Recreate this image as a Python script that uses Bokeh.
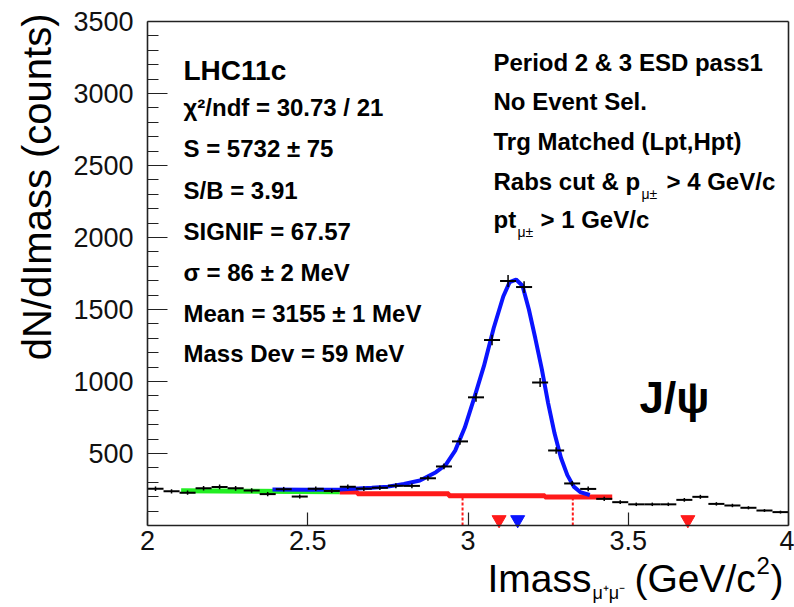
import numpy as np
from bokeh.plotting import figure
from bokeh.models import Range1d, FixedTicker, NumeralTickFormatter, Label, LinearAxis
from bokeh.embed import file_html
from bokeh.resources import INLINE

# ---------------- data ----------------
mass_centers = [2.025, 2.075, 2.125, 2.175, 2.225, 2.275, 2.325, 2.375, 2.425, 2.475,
                2.525, 2.575, 2.625, 2.675, 2.725, 2.775, 2.825, 2.875, 2.925, 2.975,
                3.025, 3.075, 3.125, 3.175, 3.225, 3.275, 3.325, 3.375, 3.425, 3.475,
                3.525, 3.575, 3.625, 3.675, 3.725, 3.775, 3.825, 3.875, 3.925, 3.975]
bin_half_width = 0.025
counts = [255, 237, 228, 259, 268, 258, 243, 218, 252, 201,
          255, 240, 269, 256, 262, 276, 275, 328, 410, 584,
          890, 1288, 1698, 1656, 993, 521, 292, 254, 185, 162,
          147, 147, 147, 178, 199, 150, 139, 123, 104, 93]
count_err = [16, 15, 15, 16, 16, 16, 16, 15, 16, 14,
             16, 15, 16, 16, 16, 17, 17, 18, 20, 24,
             30, 36, 41, 41, 32, 23, 17, 16, 14, 13,
             12, 12, 12, 13, 14, 12, 12, 11, 10, 10]

# total fit (signal + background), blue
fit_x = [2.39, 2.50, 2.60, 2.70, 2.75, 2.80, 2.85, 2.90, 2.93, 2.96, 2.99, 3.02,
         3.05, 3.08, 3.11, 3.13, 3.15, 3.17, 3.19, 3.21, 3.23, 3.25, 3.27, 3.29,
         3.31, 3.33, 3.35, 3.38]
fit_y = [250, 249, 250, 262, 270, 288, 312, 370, 420, 520, 680, 890,
         1110, 1370, 1590, 1690, 1708, 1665, 1500, 1300, 1090, 850, 640, 470,
         350, 270, 232, 212]

# background fits
bg_left_x = [2.105, 2.600]
bg_left_y = [241, 234]
bg_right_x = [2.600, 2.655, 2.940, 3.240, 3.450]
bg_right_y = [232, 221, 207, 198, 198]

# +-2 sigma window
window_x = [2.983, 3.327]
window_top = [200, 200]

# mass markers
pdg_masses = [3.097, 3.686]
fit_mean = [3.155]

y_major = [500, 1000, 1500, 2000, 2500, 3000, 3500]
x_major = [2.0, 2.5, 3.0, 3.5, 4.0]
x_bounds = (2.0, 4.0)
y_bounds = (0.0, 3500.0)

# ---------------- figure ----------------
W, H = 794, 607
FL, FR, FT, FB = 147, 788, 21, 525   # pixel box of the plotting area
X0, X1 = x_bounds
Y0, Y1 = y_bounds

def X(px):
    return X0 + (px - FL) * (X1 - X0) / (FR - FL)

def Y(py):
    return Y0 + (FB - py) * (Y1 - Y0) / (FB - FT)

p = figure(width=W, height=H, output_backend="svg", toolbar_location=None,
           x_range=Range1d(X(0), X(W)), y_range=Range1d(Y(H), Y(0)),
           x_axis_location=None, y_axis_location=None, min_border=0)
p.background_fill_color = "white"
p.border_fill_color = "white"
p.outline_line_color = None
try:
    p.grid.visible = False
except Exception:
    pass

FRAME = "#222222"

def style_axis(ax):
    ax.axis_line_color = FRAME
    ax.axis_line_width = 1.6
    ax.major_tick_line_color = FRAME
    ax.minor_tick_line_color = FRAME
    ax.major_tick_line_width = 1.2
    ax.minor_tick_line_width = 1.2
    ax.major_tick_out = 0
    ax.minor_tick_out = 0
    ax.major_label_text_font = "Liberation Sans"
    ax.major_label_text_font_size = "27px"
    ax.major_label_text_color = "#111111"

y_minor = [v for v in range(100, 3500, 100) if v % 500 != 0]
yaxis = LinearAxis(fixed_location=X0, bounds=y_bounds,
                   ticker=FixedTicker(ticks=y_major, minor_ticks=y_minor),
                   formatter=NumeralTickFormatter(format="0"))
style_axis(yaxis)
yaxis.major_tick_in = 20
yaxis.minor_tick_in = 11
yaxis.major_label_standoff = 14
p.add_layout(yaxis, "left")

xaxis = LinearAxis(fixed_location=Y0, bounds=x_bounds,
                   ticker=FixedTicker(ticks=x_major, minor_ticks=[]),
                   formatter=NumeralTickFormatter(format="0.[0]"))
style_axis(xaxis)
xaxis.major_tick_in = 13
xaxis.minor_tick_in = 0
xaxis.major_label_standoff = 5
p.add_layout(xaxis, "below")

# top and right frame edges
for side, loc, bnd in (("above", Y1, x_bounds), ("right", X1, y_bounds)):
    edge = LinearAxis(fixed_location=loc, bounds=bnd, ticker=FixedTicker(ticks=[], minor_ticks=[]))
    style_axis(edge)
    edge.major_tick_in = 0
    edge.minor_tick_in = 0
    edge.major_label_text_font_size = "0px"
    p.add_layout(edge, side)

# background fits and total fit
p.line(bg_left_x, bg_left_y, line_color="#22ee22", line_width=5)
p.step(bg_right_x, bg_right_y, mode="after", line_color="#ff1a1a", line_width=5)
p.line(fit_x, fit_y, line_color="#0a14ff", line_width=4)

# window lines
p.segment(x0=window_x, y0=[Y0, Y0], x1=window_x, y1=window_top,
          line_color="#ff1a1a", line_width=2, line_dash="3 2")

# histogram with error bars
lo = [c - bin_half_width for c in mass_centers]
hi = [c + bin_half_width for c in mass_centers]
p.segment(x0=lo, y0=counts, x1=hi, y1=counts, line_color="black", line_width=2)
p.segment(x0=mass_centers, y0=[c - e for c, e in zip(counts, count_err)],
          x1=mass_centers, y1=[c + e for c, e in zip(counts, count_err)],
          line_color="black", line_width=1.5)

# markers
p.scatter(pdg_masses, [40] * len(pdg_masses), marker="inverted_triangle", size=14,
          fill_color="#ff1a1a", line_color="#ff1a1a")
p.scatter(fit_mean, [40], marker="inverted_triangle", size=14,
          fill_color="#0a14ff", line_color="#0a14ff")

FONT = "Liberation Sans"

def lab(text, px, py, size, bold=True, align="left", angle=0):
    # py is the vertical centre of the text line, in pixels from the top
    p.add_layout(Label(x=X(px), y=Y(py), text=text, text_font=FONT,
                       text_font_size=f"{size}px",
                       text_font_style="bold" if bold else "normal",
                       text_color="black", text_align=align, text_baseline="middle",
                       angle=angle, angle_units="deg"))

# left info block
lab("LHC11c", 183, 70, 28)
left_lines = ["χ²/ndf = 30.73 / 21", "S = 5732 ± 75", "S/B = 3.91", "SIGNIF = 67.57",
              "σ = 86 ± 2 MeV", "Mean = 3155 ± 1 MeV", "Mass Dev = 59 MeV"]
left_mid = [107, 148, 190, 231, 272, 313, 353]
for t, m in zip(left_lines, left_mid):
    lab(t, 183, m, 24)

# right info block
right_lines = ["Period 2 & 3 ESD pass1", "No Event Sel.", "Trg Matched (Lpt,Hpt)"]
right_mid = [62, 101, 141]
for t, m in zip(right_lines, right_mid):
    lab(t, 493, m, 24)
lab("Rabs cut & p", 493, 181, 24)
lab("μ±", 641, 193, 14, bold=False)
lab("> 4 GeV/c", 666, 181, 24)
lab("pt", 493, 219, 24)
lab("μ±", 517, 231, 14, bold=False)
lab("> 1 GeV/c", 540, 219, 24)

# J/psi
lab("J/ψ", 639, 397, 44)

# axis titles
lab("dN/dImass (counts)", 36, 13, 40, bold=False, align="right", angle=90)
lab("Imass", 487, 578, 39, bold=False)
lab("μ⁺μ⁻", 592, 592, 18, bold=False)
lab("(GeV/c", 634, 578, 39, bold=False)
lab("2", 756, 565, 24, bold=False)
lab(")", 770, 578, 39, bold=False)

open("out.html", "w").write(file_html(p, INLINE))
